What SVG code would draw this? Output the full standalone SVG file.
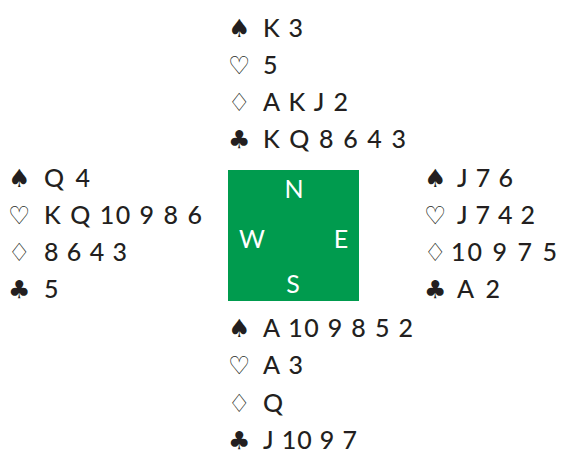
<svg xmlns="http://www.w3.org/2000/svg" width="561" height="455" viewBox="0 0 561 455">
<style>
.c{font-family:Lato,"Open Sans","Liberation Sans",sans-serif;font-size:25px;font-weight:500;fill:#231f20}
.s{font-family:"DejaVu Sans",sans-serif;font-size:25px;fill:#231f20}
.d{font-family:Lato,"Open Sans","Liberation Sans",sans-serif;font-size:25px;fill:#fff;text-anchor:middle}
</style>
<rect width="561" height="455" fill="#fff"/>
<g id="north">
<text class="s" x="228" y="37">♠</text><text class="c" x="263" y="37" textLength="40" lengthAdjust="spacing">K 3</text>
<text class="s" x="228" y="74">♡</text><text class="c" x="263" y="74">5</text>
<text class="s" x="228" y="111">♢</text><text class="c" x="263" y="111" textLength="85" lengthAdjust="spacing">A K J 2</text>
<text class="s" x="228" y="148">♣</text><text class="c" x="263" y="148" textLength="143" lengthAdjust="spacing">K Q 8 6 4 3</text>
</g>
<g id="west">
<text class="s" x="8" y="187">♠</text><text class="c" x="44" y="187" textLength="46" lengthAdjust="spacing">Q 4</text>
<text class="s" x="8" y="224">♡</text><text class="c" x="44" y="224" textLength="158" lengthAdjust="spacing">K Q 10 9 8 6</text>
<text class="s" x="8" y="261">♢</text><text class="c" x="44" y="261" textLength="83" lengthAdjust="spacing">8 6 4 3</text>
<text class="s" x="8" y="298">♣</text><text class="c" x="44" y="298">5</text>
</g>
<g id="table">
<rect x="228" y="170" width="131" height="131" fill="#009b4e"/>
<text class="d" x="294" y="198">N</text>
<text class="d" x="252" y="248">W</text>
<text class="d" x="341" y="248">E</text>
<text class="d" x="293" y="293">S</text>
</g>
<g id="east">
<text class="s" x="424" y="187">♠</text><text class="c" x="457" y="187" textLength="56" lengthAdjust="spacing">J 7 6</text>
<text class="s" x="424" y="224">♡</text><text class="c" x="457" y="224" textLength="78" lengthAdjust="spacing">J 7 4 2</text>
<text class="s" x="424" y="261">♢</text><text class="c" x="451" y="261" textLength="106" lengthAdjust="spacing">10 9 7 5</text>
<text class="s" x="424" y="298">♣</text><text class="c" x="457" y="298" textLength="43" lengthAdjust="spacing">A 2</text>
</g>
<g id="south">
<text class="s" x="228" y="337">♠</text><text class="c" x="263" y="337" textLength="150" lengthAdjust="spacing">A 10 9 8 5 2</text>
<text class="s" x="228" y="374">♡</text><text class="c" x="263" y="374" textLength="40" lengthAdjust="spacing">A 3</text>
<text class="s" x="228" y="412">♢</text><text class="c" x="263" y="412">Q</text>
<text class="s" x="228" y="449">♣</text><text class="c" x="263" y="449" textLength="94" lengthAdjust="spacing">J 10 9 7</text>
</g>
<g id="connectors"/>
</svg>
